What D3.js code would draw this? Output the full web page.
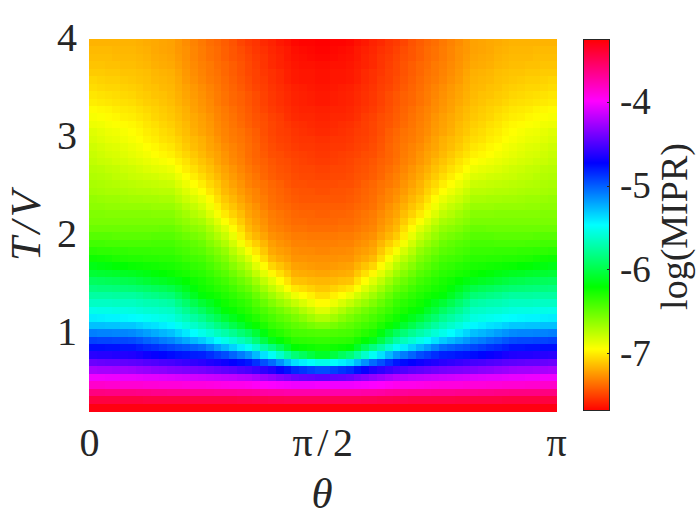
<!DOCTYPE html>
<html><head><meta charset="utf-8">
<script src="https://cdn.jsdelivr.net/npm/d3@7/dist/d3.min.js"></script>
<style>html,body{margin:0;padding:0;background:#fff}svg{display:block}text{font-family:"Liberation Serif","DejaVu Serif",serif;fill:#262626}</style>
</head><body><svg id="c" width="700" height="525"></svg>
<script>
const xTickValues=[0,Math.PI/2,Math.PI];
const xTickLabels=["0","π/2","π"];
const yTickValues=[1,2,3,4];
const cbTickValues=[-7,-6,-5,-4];
const thetaRange=[0,Math.PI];
const tRange=[0.2,4];
const colorRange=[-7.69,-3.25];
const columnCount=60;
// log(MIPR) x 100; rows run from T/V=4 down to 0.2,
// columns from theta=0 to pi/2 (the picture is mirror-symmetric about pi/2).
const logMiprLeft=[
[-717,-717,-717,-717,-717,-717,-718,-719,-720,-721,-722,-725,-728,-731,-734,-737,-739,-742,-745,-749,-752,-754,-757,-759,-762,-764,-767,-768,-768,-769],
[-715,-715,-715,-716,-716,-716,-717,-718,-720,-721,-722,-725,-727,-730,-733,-736,-738,-741,-744,-747,-750,-753,-755,-758,-760,-762,-765,-766,-767,-768],
[-714,-714,-714,-715,-715,-715,-716,-717,-719,-720,-721,-724,-727,-730,-733,-736,-738,-741,-744,-746,-749,-752,-754,-757,-759,-762,-764,-765,-766,-767],
[-712,-712,-713,-713,-714,-714,-715,-716,-718,-719,-720,-723,-726,-729,-732,-734,-737,-739,-742,-745,-748,-751,-754,-757,-759,-761,-763,-764,-764,-765],
[-710,-710,-711,-711,-712,-712,-713,-714,-716,-717,-718,-721,-725,-728,-731,-734,-736,-739,-742,-745,-748,-750,-753,-755,-757,-760,-762,-763,-763,-764],
[-707,-708,-709,-709,-710,-711,-712,-713,-715,-716,-717,-720,-724,-727,-730,-733,-735,-738,-741,-744,-747,-750,-752,-755,-757,-760,-762,-763,-763,-764],
[-705,-706,-707,-707,-708,-709,-710,-712,-713,-715,-716,-719,-722,-725,-728,-731,-734,-737,-740,-743,-746,-749,-751,-754,-756,-758,-760,-761,-762,-763],
[-702,-703,-704,-705,-706,-707,-709,-710,-712,-713,-715,-718,-721,-724,-727,-730,-733,-736,-739,-741,-744,-747,-750,-753,-755,-757,-759,-760,-761,-762],
[-700,-701,-702,-703,-704,-705,-707,-709,-710,-712,-714,-717,-720,-723,-726,-729,-733,-736,-739,-741,-744,-747,-750,-753,-755,-757,-759,-760,-761,-762],
[-696,-697,-698,-700,-701,-702,-704,-706,-708,-710,-712,-715,-718,-722,-725,-728,-731,-734,-737,-740,-743,-746,-749,-752,-754,-756,-758,-759,-759,-760],
[-693,-694,-696,-697,-699,-700,-702,-704,-707,-709,-711,-714,-717,-720,-723,-726,-730,-733,-736,-739,-742,-745,-747,-750,-752,-755,-757,-758,-758,-759],
[-690,-691,-693,-694,-696,-697,-699,-702,-704,-707,-709,-712,-715,-719,-722,-725,-729,-732,-735,-738,-741,-744,-746,-749,-751,-753,-755,-756,-757,-758],
[-686,-688,-690,-691,-693,-695,-697,-700,-702,-705,-707,-711,-714,-718,-721,-724,-728,-731,-734,-736,-739,-742,-746,-749,-751,-752,-754,-755,-756,-757],
[-684,-686,-688,-689,-691,-693,-695,-698,-700,-703,-705,-708,-712,-715,-718,-722,-726,-730,-733,-735,-738,-741,-745,-748,-750,-751,-753,-754,-754,-755],
[-681,-683,-685,-686,-688,-690,-692,-695,-697,-700,-702,-706,-710,-714,-717,-721,-724,-728,-731,-734,-737,-740,-744,-747,-749,-750,-752,-753,-753,-754],
[-679,-681,-683,-684,-686,-688,-690,-692,-695,-697,-699,-703,-707,-711,-715,-719,-722,-726,-730,-733,-737,-740,-743,-746,-747,-749,-750,-751,-752,-753],
[-677,-679,-680,-682,-683,-685,-687,-689,-691,-693,-695,-699,-703,-708,-712,-716,-721,-725,-729,-732,-736,-739,-741,-744,-746,-747,-749,-750,-751,-752],
[-674,-675,-677,-678,-680,-681,-683,-685,-687,-688,-690,-695,-700,-704,-709,-713,-718,-722,-726,-730,-734,-737,-740,-743,-745,-746,-748,-749,-749,-750],
[-672,-673,-674,-676,-677,-679,-680,-681,-682,-684,-685,-690,-695,-700,-705,-710,-715,-720,-724,-728,-732,-735,-739,-742,-744,-745,-747,-748,-748,-749],
[-670,-671,-672,-673,-674,-675,-676,-677,-678,-679,-680,-685,-690,-695,-700,-706,-711,-717,-722,-726,-731,-734,-736,-739,-741,-744,-746,-746,-747,-747],
[-668,-669,-670,-670,-671,-672,-673,-673,-674,-675,-675,-680,-685,-690,-695,-702,-708,-715,-719,-724,-728,-731,-735,-738,-740,-742,-744,-745,-745,-746],
[-664,-665,-666,-666,-667,-668,-668,-669,-669,-670,-670,-675,-680,-684,-689,-696,-704,-711,-716,-721,-726,-730,-733,-737,-739,-741,-743,-744,-744,-744],
[-662,-662,-663,-663,-664,-664,-664,-664,-665,-665,-665,-669,-674,-678,-683,-691,-699,-707,-712,-718,-723,-727,-732,-736,-738,-739,-741,-742,-742,-742],
[-658,-658,-659,-659,-659,-659,-659,-659,-660,-660,-660,-664,-668,-673,-677,-685,-693,-701,-708,-714,-721,-725,-729,-733,-735,-737,-739,-740,-740,-741],
[-656,-656,-656,-656,-656,-656,-656,-656,-656,-656,-656,-660,-663,-667,-670,-678,-686,-694,-702,-710,-718,-723,-727,-732,-734,-736,-738,-738,-739,-739],
[-652,-652,-652,-652,-652,-652,-652,-652,-652,-651,-651,-654,-658,-661,-664,-671,-679,-686,-696,-705,-715,-720,-725,-730,-732,-734,-736,-736,-737,-737],
[-646,-646,-646,-647,-647,-647,-647,-647,-646,-646,-646,-649,-652,-655,-658,-665,-672,-679,-689,-700,-710,-716,-721,-727,-729,-731,-733,-733,-734,-734],
[-640,-640,-641,-641,-642,-642,-642,-642,-641,-641,-641,-644,-646,-649,-652,-659,-665,-672,-682,-692,-702,-709,-716,-723,-726,-728,-731,-731,-732,-732],
[-633,-634,-634,-635,-635,-636,-636,-636,-637,-637,-637,-640,-642,-645,-647,-653,-658,-664,-674,-683,-693,-702,-711,-720,-723,-725,-728,-729,-729,-730],
[-625,-626,-627,-629,-630,-631,-631,-632,-632,-633,-633,-635,-638,-640,-642,-647,-653,-658,-667,-675,-684,-694,-705,-715,-719,-722,-726,-726,-727,-727],
[-615,-617,-618,-620,-621,-623,-624,-625,-626,-627,-628,-630,-632,-635,-637,-642,-647,-652,-660,-667,-675,-686,-696,-707,-712,-717,-722,-723,-724,-725],
[-606,-607,-608,-609,-611,-612,-614,-616,-619,-621,-623,-626,-628,-631,-633,-637,-642,-646,-653,-660,-667,-677,-687,-697,-704,-711,-718,-719,-720,-721],
[-594,-595,-596,-597,-599,-600,-603,-606,-609,-611,-614,-617,-621,-625,-628,-632,-636,-640,-646,-652,-658,-667,-677,-686,-695,-703,-712,-713,-715,-716],
[-584,-585,-585,-586,-587,-588,-590,-592,-595,-597,-600,-606,-613,-619,-625,-628,-632,-635,-640,-646,-651,-659,-668,-677,-685,-694,-702,-705,-708,-711],
[-574,-574,-574,-575,-575,-575,-577,-580,-582,-585,-587,-595,-603,-611,-619,-623,-626,-630,-634,-639,-643,-651,-659,-667,-675,-682,-690,-695,-699,-704],
[-564,-564,-564,-565,-565,-565,-567,-569,-570,-572,-574,-582,-590,-598,-606,-612,-619,-625,-629,-633,-637,-644,-651,-658,-665,-671,-678,-684,-690,-696],
[-553,-554,-554,-555,-555,-556,-558,-560,-561,-563,-564,-571,-579,-586,-593,-602,-610,-619,-623,-628,-632,-638,-643,-649,-654,-660,-665,-672,-678,-685],
[-542,-543,-544,-544,-545,-546,-548,-550,-552,-554,-556,-562,-568,-574,-580,-589,-597,-606,-613,-619,-626,-631,-637,-642,-647,-651,-656,-661,-667,-672],
[-529,-529,-530,-530,-531,-531,-534,-537,-539,-542,-545,-551,-557,-562,-568,-575,-583,-590,-599,-607,-616,-623,-629,-636,-640,-644,-648,-651,-655,-658],
[-510,-511,-511,-512,-512,-513,-516,-519,-523,-526,-529,-535,-541,-547,-553,-559,-566,-572,-579,-587,-594,-605,-617,-628,-632,-637,-641,-642,-643,-644],
[-492,-493,-493,-494,-494,-495,-498,-502,-505,-509,-512,-517,-522,-527,-532,-539,-546,-553,-560,-567,-574,-587,-601,-614,-620,-627,-633,-634,-635,-636],
[-477,-477,-478,-478,-479,-479,-482,-485,-487,-490,-493,-496,-498,-501,-504,-511,-519,-526,-534,-542,-550,-561,-573,-584,-596,-609,-621,-623,-625,-627],
[-461,-462,-462,-463,-463,-464,-466,-469,-471,-474,-476,-478,-479,-481,-482,-486,-491,-495,-502,-509,-516,-527,-539,-550,-562,-575,-587,-594,-602,-609],
[-442,-443,-444,-444,-445,-446,-447,-449,-450,-452,-453,-455,-457,-459,-461,-464,-466,-469,-472,-476,-479,-487,-496,-504,-515,-527,-538,-543,-548,-553],
[-424,-425,-425,-426,-426,-427,-429,-430,-432,-433,-435,-436,-437,-438,-439,-441,-443,-445,-447,-450,-452,-456,-460,-464,-471,-478,-485,-488,-492,-495],
[-403,-403,-404,-404,-405,-405,-406,-407,-407,-408,-409,-410,-411,-412,-413,-414,-415,-416,-417,-419,-420,-423,-427,-430,-434,-437,-441,-443,-444,-446],
[-384,-384,-385,-385,-386,-386,-386,-387,-387,-388,-388,-388,-389,-389,-389,-390,-391,-392,-393,-393,-394,-396,-398,-400,-401,-402,-403,-403,-403,-402],
[-362,-362,-363,-363,-363,-363,-364,-364,-365,-365,-366,-366,-366,-367,-367,-367,-368,-368,-368,-369,-369,-370,-372,-373,-373,-374,-374,-374,-374,-374],
[-344,-344,-344,-344,-344,-344,-344,-345,-345,-345,-345,-345,-345,-346,-346,-346,-346,-346,-346,-347,-347,-348,-348,-349,-349,-350,-350,-350,-350,-350],
[-330,-330,-330,-330,-330,-330,-330,-330,-330,-330,-330,-330,-330,-330,-330,-330,-330,-330,-330,-330,-330,-330,-330,-330,-330,-330,-330,-330,-330,-330]
];
const rowCount=logMiprLeft.length;
const rows=logMiprLeft.map(r=>r.concat(r.slice().reverse()).map(v=>v/100));

const svg=d3.select("#c");
const L=89,R=556,T=39,B=411,CL=583,CR=610;
const xPos=d3.scaleLinear().domain(thetaRange).range([L,R]);
const yPos=d3.scaleLinear().domain(tRange).range([B,T]);
const xBand=d3.scaleBand().domain(d3.range(columnCount)).range([L,R]);
const yBand=d3.scaleBand().domain(d3.range(rowCount)).range([T,B]);
const hue=d3.scaleLinear().domain(colorRange).range([0,360]).clamp(true);
const color=v=>d3.hsl(hue(v),1,.5).formatRgb();
const cbPos=d3.scaleLinear().domain(colorRange).range([B,T]);

svg.append("g").attr("shape-rendering","crispEdges").selectAll("g").data(rows).join("g")
 .attr("transform",(d,i)=>`translate(0,${yBand(i)})`)
 .selectAll("rect").data(d=>d).join("rect")
 .attr("x",(d,i)=>xBand(i)).attr("width",xBand.bandwidth()+.5)
 .attr("height",yBand.bandwidth()+.5).attr("fill",d=>color(d));

// colorbar
const cbSteps=d3.range(B-T).map(i=>cbPos.invert(B-i-.5));
svg.append("g").attr("shape-rendering","crispEdges").selectAll("rect").data(cbSteps).join("rect")
 .attr("x",CL).attr("width",CR-CL).attr("y",d=>cbPos(d)-.5).attr("height",1).attr("fill",color);
svg.append("rect").attr("x",CL+.5).attr("y",T+.5).attr("width",CR-CL-1).attr("height",B-T-1)
 .attr("fill","none").attr("stroke","#262626").attr("stroke-width",1);

const xAxis=svg.append("g").attr("transform",`translate(0,${B})`)
 .call(d3.axisBottom(xPos).tickValues(xTickValues).tickFormat((d,i)=>xTickLabels[i]).tickSize(0).tickPadding(17));
const yAxis=svg.append("g").attr("transform",`translate(${L},-1)`)
 .call(d3.axisLeft(yPos).tickValues(yTickValues).tickFormat(d=>String(d)).tickSize(0).tickPadding(12));
const cbAxis=svg.append("g").attr("transform",`translate(${CR-1},0)`)
 .call(d3.axisRight(cbPos).tickValues(cbTickValues).tickSize(-2).tickPadding(11).tickFormat(d=>String(d)));
[xAxis,yAxis,cbAxis].forEach(a=>{a.select(".domain").remove();a.attr("font-family",null);a.selectAll("text").attr("font-size",40).style("fill","#262626");});
cbAxis.selectAll("text").attr("font-size",37);
cbAxis.selectAll("line").attr("stroke","#262626").attr("x2",-2).attr("shape-rendering","crispEdges");
xAxis.selectAll("text").filter((d,i)=>i===1).style("letter-spacing","4.5px").attr("dx",2);

svg.append("text").attr("x",322).attr("y",508).attr("text-anchor","middle").attr("font-size",43).attr("font-style","italic").text("θ");
svg.append("text").attr("transform","translate(40,224) rotate(-90)").attr("text-anchor","middle").attr("font-size",43).attr("font-style","italic").style("letter-spacing","4px").text("T/V");
svg.append("text").attr("transform","translate(687,226.5) rotate(-90)").attr("text-anchor","middle").attr("font-size",38).text("log(MIPR)");
</script></body></html>
